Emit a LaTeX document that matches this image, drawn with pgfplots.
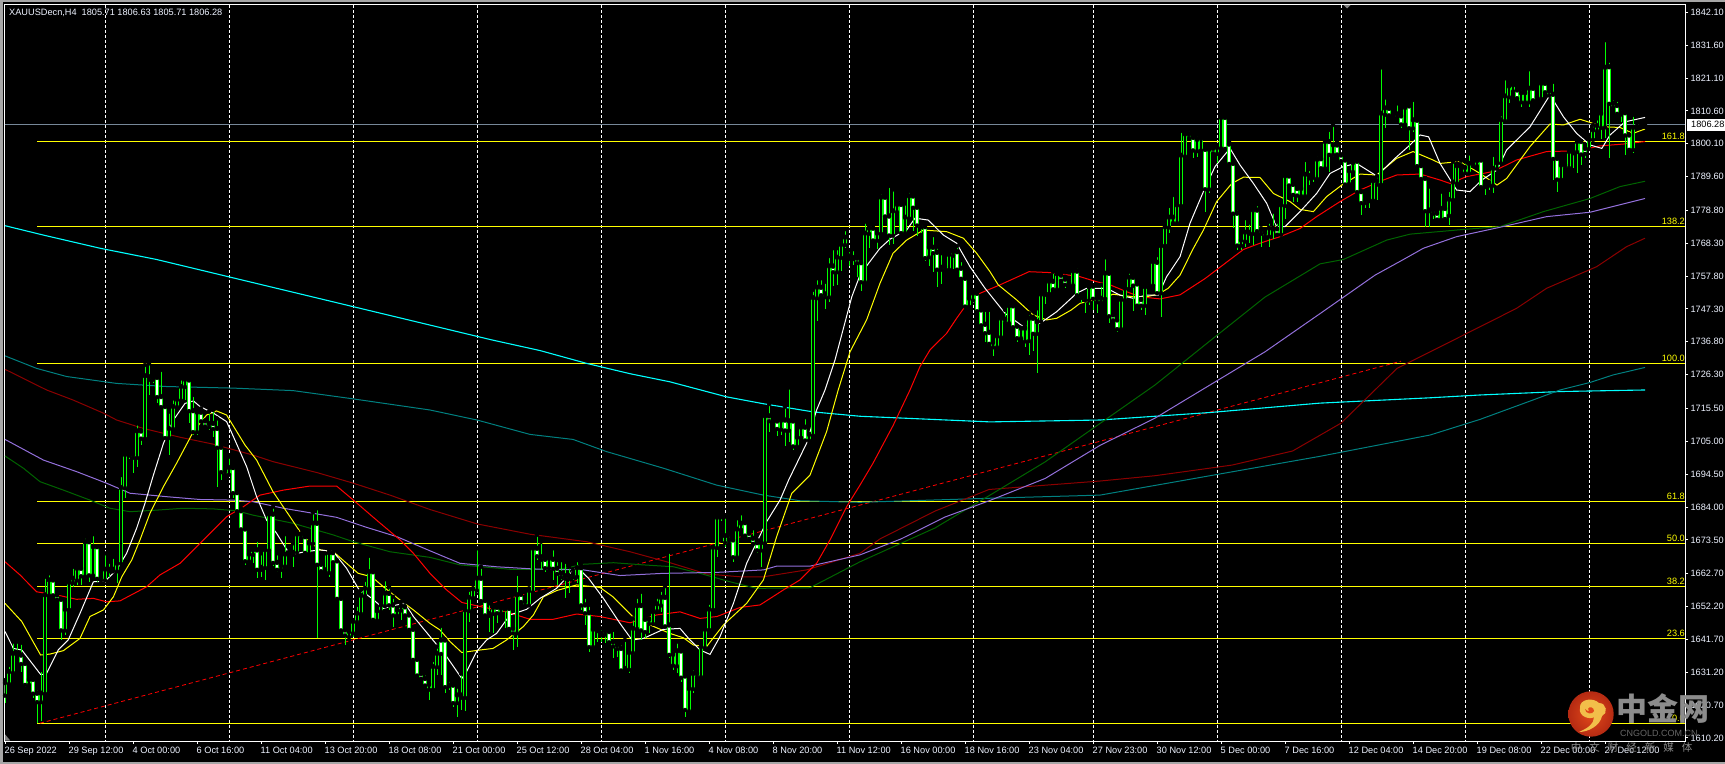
\documentclass[border=0pt]{standalone}
\usepackage{pgfplots}
\usepackage{pgfplotstable}
\usepackage{fontspec}
\setmainfont{Liberation Sans}
\newfontfamily\cjk{Noto Sans CJK SC}
\pgfplotsset{compat=1.18}
\definecolor{cgreen}{HTML}{00FF00}
\definecolor{cdred}{HTML}{8B0000}
\definecolor{cdgreen}{HTML}{006400}
\definecolor{cpurple}{HTML}{9370DB}
\definecolor{cteal}{HTML}{008080}
\definecolor{cbid}{HTML}{778899}
\definecolor{ccyan}{HTML}{00FFFF}
\definecolor{cyel}{HTML}{FFFF00}
\definecolor{cred}{HTML}{FF0000}
\definecolor{cwhite}{HTML}{FFFFFF}
\definecolor{clabel}{HTML}{EEF3FF}
\pgfplotstableread{
i o h l c
0 1623.9 1628.7 1621.3 1627.9
1 1627.6 1633.5 1627.0 1631.4
2 1631.1 1641.0 1630.5 1637.2
3 1636.7 1641.0 1636.7 1637.4
4 1636.7 1640.6 1631.4 1634.0
5 1634.0 1634.0 1626.6 1627.3
6 1627.3 1630.3 1627.3 1628.9
7 1628.9 1630.3 1622.9 1624.5
8 1624.5 1626.0 1614.9 1621.8
9 1621.8 1631.9 1615.6 1624.5
10 1624.5 1661.7 1624.5 1655.9
11 1655.9 1662.8 1655.9 1660.7
12 1660.7 1660.7 1655.3 1655.9
13 1655.9 1655.9 1654.5 1654.5
14 1654.5 1654.5 1641.5 1644.7
15 1644.7 1651.3 1643.1 1651.3
16 1651.3 1659.9 1651.3 1659.9
17 1659.9 1664.9 1658.5 1661.2
18 1660.7 1665.5 1659.1 1664.4
19 1664.4 1664.9 1659.1 1662.0
20 1662.0 1674.5 1662.0 1672.9
21 1672.9 1674.0 1660.1 1662.3
22 1662.3 1675.3 1662.3 1671.3
23 1671.3 1671.3 1660.1 1661.2
24 1661.5 1662.8 1660.1 1660.7
25 1660.7 1669.2 1660.7 1664.1
26 1663.6 1666.5 1661.7 1664.1
27 1663.6 1668.1 1663.0 1664.1
28 1663.6 1666.5 1659.6 1666.0
29 1666.0 1694.2 1666.0 1690.2
30 1690.2 1701.7 1686.8 1700.8
31 1700.6 1702.2 1699.5 1700.9
32 1700.8 1700.8 1694.8 1699.9
33 1699.9 1710.7 1696.9 1708.3
34 1708.3 1708.3 1703.8 1706.0
35 1706.0 1729.4 1706.0 1725.9
36 1724.8 1729.9 1719.8 1725.6
37 1725.4 1726.2 1723.5 1724.8
38 1725.4 1726.2 1717.1 1719.3
39 1719.3 1727.8 1715.5 1716.1
40 1716.1 1716.1 1706.0 1706.2
41 1706.2 1714.5 1700.6 1709.1
42 1709.1 1718.7 1708.6 1716.1
43 1716.1 1718.8 1716.1 1718.4
44 1718.2 1725.1 1717.7 1722.5
45 1722.5 1725.6 1718.2 1724.8
46 1724.6 1725.0 1710.7 1714.8
47 1714.8 1719.8 1707.0 1708.1
48 1708.1 1715.5 1707.0 1714.3
49 1714.3 1715.5 1710.7 1711.5
50 1711.5 1711.5 1709.1 1709.9
51 1709.7 1714.5 1708.6 1710.7
52 1710.7 1715.0 1706.5 1709.1
53 1709.1 1712.3 1690.5 1703.1
54 1703.1 1703.3 1692.6 1695.3
55 1694.5 1695.5 1694.2 1695.5
56 1694.5 1700.1 1694.5 1696.6
57 1696.6 1697.4 1686.8 1688.6
58 1688.6 1689.4 1682.0 1682.8
59 1682.8 1683.6 1676.7 1677.0
60 1677.0 1677.0 1665.5 1666.8
61 1666.8 1668.9 1666.0 1668.9
62 1668.9 1671.3 1666.0 1670.3
63 1670.3 1673.5 1661.2 1664.1
64 1664.1 1669.2 1661.7 1664.7
65 1664.7 1671.3 1660.7 1670.3
66 1670.3 1682.0 1670.3 1681.7
67 1681.7 1684.1 1665.0 1666.3
68 1666.3 1669.2 1663.3 1664.1
69 1664.1 1665.2 1661.2 1665.2
70 1665.2 1675.3 1665.2 1668.9
71 1668.3 1669.7 1668.1 1669.0
72 1668.9 1672.4 1664.9 1669.5
73 1669.5 1676.1 1669.5 1675.3
74 1675.3 1675.5 1674.2 1674.3
75 1674.5 1674.5 1669.4 1669.5
76 1669.2 1672.9 1668.7 1672.4
77 1672.4 1682.3 1672.4 1678.8
78 1678.8 1683.6 1642.2 1665.7
79 1665.7 1665.7 1662.8 1663.6
80 1663.9 1669.2 1663.0 1663.4
81 1663.1 1670.3 1661.7 1669.4
82 1669.4 1669.4 1666.4 1666.5
83 1666.8 1666.8 1654.3 1654.8
84 1654.8 1654.8 1644.2 1644.7
85 1644.7 1644.7 1639.9 1643.1
86 1642.6 1644.3 1642.4 1644.2
87 1643.8 1647.9 1642.5 1647.4
88 1647.4 1652.7 1647.3 1650.0
89 1650.0 1657.5 1650.0 1655.7
90 1655.7 1660.7 1655.5 1658.0
91 1658.0 1668.4 1657.5 1663.3
92 1663.3 1663.3 1647.9 1648.1
93 1647.9 1651.6 1647.9 1650.8
94 1650.8 1653.2 1650.8 1652.7
95 1652.5 1660.9 1652.5 1656.4
96 1656.4 1658.5 1651.1 1652.7
97 1652.7 1655.3 1645.8 1649.5
98 1649.5 1651.2 1649.4 1651.1
99 1651.1 1653.7 1647.9 1652.4
100 1652.1 1653.7 1649.4 1649.5
101 1649.5 1649.5 1644.7 1644.9
102 1644.9 1644.9 1635.1 1635.3
103 1635.3 1635.3 1630.2 1630.3
104 1630.8 1631.4 1628.9 1629.3
105 1629.2 1630.8 1626.6 1627.1
106 1625.8 1627.5 1622.3 1627.3
107 1625.8 1635.1 1625.5 1633.0
108 1633.0 1639.4 1630.3 1637.2
109 1641.5 1646.0 1630.3 1637.2
110 1641.5 1641.5 1624.7 1626.6
111 1627.1 1628.7 1625.5 1626.9
112 1627.1 1628.2 1620.2 1621.5
113 1621.5 1626.6 1617.0 1623.9
114 1623.2 1630.8 1619.1 1623.9
115 1623.2 1651.1 1618.9 1651.1
116 1650.9 1657.5 1647.4 1655.1
117 1655.1 1658.0 1655.0 1657.8
118 1657.5 1670.8 1657.4 1661.2
119 1661.2 1664.9 1654.0 1654.1
120 1654.1 1654.1 1649.0 1649.5
121 1649.4 1653.2 1644.2 1650.0
122 1650.0 1652.7 1643.8 1651.9
123 1651.9 1652.7 1646.8 1650.2
124 1650.2 1652.0 1650.0 1651.6
125 1651.5 1652.1 1645.2 1651.9
126 1651.6 1652.1 1644.7 1645.2
127 1645.2 1645.2 1638.3 1643.8
128 1643.8 1662.6 1639.4 1655.9
129 1656.1 1656.4 1653.6 1653.8
130 1653.8 1653.8 1652.1 1652.7
131 1652.7 1658.0 1652.5 1657.3
132 1656.9 1671.3 1656.9 1670.8
133 1670.8 1675.1 1667.0 1668.4
134 1668.1 1672.9 1663.9 1667.3
135 1667.3 1668.1 1663.3 1664.6
136 1664.6 1667.8 1664.4 1667.6
137 1667.3 1670.8 1660.7 1664.4
138 1664.4 1667.0 1659.1 1662.8
139 1662.8 1667.0 1660.7 1661.7
140 1661.2 1666.5 1654.8 1662.0
141 1661.2 1664.9 1656.4 1662.0
142 1661.7 1663.9 1660.7 1662.6
143 1661.9 1667.0 1659.6 1664.6
144 1664.6 1665.5 1651.1 1652.7
145 1652.7 1655.3 1646.3 1650.2
146 1650.2 1652.7 1637.8 1639.4
147 1639.4 1645.2 1638.8 1644.9
148 1644.5 1645.5 1640.9 1644.9
149 1643.2 1645.2 1640.9 1643.6
150 1643.4 1644.7 1640.4 1644.4
151 1644.2 1644.7 1640.4 1640.9
152 1640.9 1644.7 1635.6 1639.6
153 1639.9 1640.0 1636.2 1638.8
154 1638.8 1640.4 1631.5 1631.9
155 1632.1 1641.5 1631.7 1632.4
156 1632.2 1637.8 1630.8 1637.5
157 1637.5 1648.4 1636.7 1645.2
158 1645.2 1655.3 1645.0 1652.4
159 1652.5 1656.9 1641.5 1644.7
160 1648.1 1648.2 1642.0 1644.2
161 1646.8 1648.3 1643.6 1648.1
162 1646.8 1651.1 1646.3 1650.5
163 1650.9 1655.3 1650.8 1653.0
164 1652.7 1657.5 1650.5 1655.1
165 1655.1 1658.7 1645.9 1646.0
166 1646.3 1669.7 1635.6 1636.9
167 1633.5 1638.3 1632.0 1636.9
168 1633.3 1641.0 1631.0 1638.0
169 1638.0 1638.0 1628.2 1629.6
170 1630.0 1630.2 1616.8 1619.3
171 1618.9 1626.5 1618.9 1626.0
172 1626.0 1632.4 1624.5 1630.8
173 1629.8 1631.4 1629.2 1630.8
174 1629.8 1639.5 1629.2 1639.4
175 1639.1 1645.0 1639.0 1644.9
176 1644.9 1653.4 1644.8 1651.3
177 1651.3 1671.3 1651.3 1671.1
178 1671.1 1681.8 1667.9 1680.7
179 1680.9 1681.8 1679.6 1681.1
180 1672.7 1680.9 1671.3 1674.8
181 1673.5 1675.1 1672.3 1672.4
182 1673.5 1673.6 1666.5 1668.1
183 1668.1 1680.4 1668.0 1676.9
184 1676.9 1682.0 1676.8 1678.8
185 1679.0 1679.2 1674.9 1675.0
186 1675.6 1675.8 1673.9 1674.0
187 1674.0 1677.2 1672.3 1672.4
188 1672.6 1673.5 1669.2 1670.3
189 1670.3 1672.7 1664.7 1672.6
190 1672.6 1713.2 1672.6 1713.1
191 1713.1 1716.9 1708.1 1711.6
192 1711.8 1712.3 1710.7 1711.3
193 1711.5 1712.7 1706.7 1709.1
194 1708.9 1711.8 1707.0 1711.7
195 1711.8 1716.1 1703.5 1708.6
196 1708.6 1722.2 1704.9 1711.5
197 1711.5 1711.8 1702.2 1703.5
198 1703.5 1707.5 1703.3 1706.3
199 1706.3 1709.6 1706.2 1709.5
200 1709.5 1712.7 1705.3 1705.4
201 1705.4 1707.3 1705.3 1707.2
202 1707.0 1753.4 1706.8 1750.9
203 1750.9 1757.1 1743.6 1754.2
204 1754.2 1757.1 1751.7 1751.8
205 1752.1 1756.0 1747.2 1751.2
206 1751.2 1764.2 1749.6 1761.0
207 1761.0 1766.7 1754.6 1759.2
208 1759.2 1766.7 1755.0 1763.8
209 1763.8 1769.3 1759.5 1767.9
210 1767.9 1772.8 1766.7 1770.2
211 1763.5 1766.1 1761.0 1764.2
212 1763.7 1766.4 1761.3 1763.4
213 1763.5 1764.0 1757.6 1762.1
214 1762.1 1762.4 1753.1 1756.0
215 1756.0 1775.2 1756.0 1771.5
216 1771.5 1774.1 1766.7 1773.1
217 1773.1 1774.1 1769.2 1769.3
218 1769.3 1772.5 1766.3 1771.5
219 1771.5 1784.5 1771.4 1783.0
220 1783.0 1783.2 1776.9 1777.0
221 1777.0 1786.6 1767.7 1770.9
222 1770.9 1785.5 1767.9 1778.6
223 1778.4 1781.0 1778.3 1780.7
224 1780.7 1781.6 1771.5 1771.7
225 1771.7 1781.0 1771.6 1776.6
226 1776.4 1785.0 1776.3 1783.4
227 1783.4 1783.5 1772.3 1779.8
228 1779.8 1780.0 1770.6 1774.1
229 1774.4 1774.6 1771.5 1773.6
230 1773.6 1774.1 1762.7 1763.7
231 1764.0 1767.1 1761.0 1767.0
232 1767.0 1770.9 1759.2 1765.3
233 1765.4 1767.2 1754.4 1760.0
234 1760.0 1765.1 1755.2 1760.6
235 1760.0 1761.9 1759.7 1760.8
236 1760.0 1764.8 1759.5 1764.7
237 1765.6 1766.7 1760.0 1764.5
238 1765.6 1767.4 1759.9 1760.0
239 1760.3 1762.9 1757.0 1757.1
240 1757.1 1758.1 1748.0 1748.2
241 1748.2 1750.8 1747.5 1750.7
242 1750.2 1752.8 1750.1 1752.3
243 1752.3 1752.8 1746.4 1746.7
244 1747.0 1747.5 1741.6 1742.2
245 1742.4 1747.0 1736.8 1739.7
246 1739.8 1747.0 1736.0 1736.3
247 1735.2 1737.4 1732.4 1736.6
248 1735.2 1739.5 1735.1 1738.6
249 1738.4 1744.8 1738.3 1744.3
250 1743.0 1747.0 1742.7 1744.0
251 1742.9 1749.6 1742.8 1748.3
252 1748.3 1749.1 1741.5 1741.6
253 1741.8 1741.9 1736.8 1738.1
254 1738.1 1741.2 1737.4 1741.1
255 1737.1 1741.6 1735.2 1741.1
256 1737.2 1745.9 1732.6 1744.3
257 1744.3 1744.8 1733.9 1739.5
258 1739.5 1747.5 1726.9 1743.2
259 1743.4 1753.3 1743.3 1752.0
260 1752.0 1752.8 1748.9 1752.3
261 1752.3 1756.5 1752.2 1756.1
262 1756.1 1759.2 1753.3 1753.7
263 1753.7 1759.2 1753.6 1758.5
264 1758.1 1758.7 1756.4 1756.5
265 1756.8 1757.6 1753.9 1755.2
266 1755.0 1756.0 1754.9 1755.5
267 1755.0 1760.0 1754.9 1759.4
268 1759.4 1760.8 1751.2 1751.8
269 1751.8 1751.9 1749.1 1751.0
270 1751.0 1751.1 1745.9 1750.2
271 1750.2 1755.5 1748.6 1754.4
272 1754.6 1754.7 1747.0 1750.7
273 1749.6 1750.8 1745.9 1750.7
274 1749.6 1755.0 1749.1 1750.7
275 1750.7 1763.8 1750.6 1758.7
276 1758.7 1758.8 1742.9 1745.1
277 1745.4 1745.5 1743.7 1743.8
278 1743.8 1743.9 1740.0 1741.0
279 1741.0 1750.4 1740.8 1750.3
280 1750.3 1755.0 1750.2 1753.9
281 1753.9 1759.2 1753.8 1757.4
282 1757.4 1758.7 1746.7 1754.9
283 1755.3 1755.4 1748.4 1748.5
284 1750.3 1750.4 1747.0 1748.5
285 1748.5 1754.5 1745.4 1754.4
286 1754.7 1755.8 1754.2 1755.3
287 1754.9 1762.5 1754.8 1762.4
288 1762.2 1764.5 1752.4 1752.5
289 1752.5 1768.8 1744.6 1767.5
290 1767.7 1773.6 1767.6 1773.5
291 1773.5 1780.2 1771.5 1776.6
292 1774.9 1783.7 1774.1 1776.6
293 1774.9 1781.6 1774.8 1780.5
294 1780.4 1804.2 1780.3 1796.4
295 1796.2 1804.3 1796.1 1803.2
296 1803.2 1804.5 1801.8 1802.1
297 1802.1 1802.9 1795.4 1798.1
298 1797.9 1802.9 1795.7 1801.5
299 1798.1 1802.9 1798.0 1801.8
300 1798.3 1798.4 1778.4 1785.7
301 1785.7 1798.6 1784.2 1798.3
302 1798.6 1799.7 1796.5 1797.2
303 1797.0 1799.7 1793.8 1798.9
304 1798.8 1808.9 1798.7 1808.5
305 1808.5 1809.8 1798.5 1798.6
306 1800.0 1800.8 1793.3 1793.8
307 1793.8 1793.9 1773.1 1777.9
308 1777.9 1779.4 1766.1 1767.7
309 1767.7 1770.4 1766.1 1769.3
310 1769.0 1776.3 1767.2 1771.8
311 1771.5 1774.9 1768.3 1771.8
312 1771.5 1779.4 1767.7 1778.9
313 1778.9 1780.8 1772.2 1772.3
314 1772.5 1773.1 1767.2 1771.5
315 1771.7 1771.8 1770.4 1770.6
316 1770.6 1775.2 1767.2 1773.1
317 1772.9 1778.4 1769.5 1773.1
318 1772.9 1775.2 1771.0 1771.2
319 1771.2 1781.1 1771.1 1780.5
320 1780.4 1790.4 1776.0 1789.8
321 1789.8 1790.1 1786.8 1786.9
322 1787.1 1788.0 1781.6 1783.9
323 1785.8 1786.6 1781.6 1783.7
324 1783.5 1786.4 1783.4 1785.8
325 1783.5 1794.9 1783.4 1790.3
326 1789.2 1792.0 1786.9 1789.9
327 1789.4 1790.1 1788.0 1789.6
328 1789.0 1796.5 1788.9 1795.1
329 1795.3 1795.5 1792.3 1792.4
330 1792.4 1801.3 1792.3 1800.8
331 1800.8 1804.5 1791.2 1796.7
332 1796.7 1806.1 1796.0 1799.7
333 1799.7 1800.8 1796.5 1796.8
334 1796.5 1796.6 1794.6 1794.7
335 1794.9 1795.0 1786.9 1787.2
336 1787.4 1791.5 1787.3 1791.4
337 1791.2 1794.2 1791.1 1794.1
338 1794.5 1794.9 1784.5 1784.8
339 1784.8 1784.9 1777.3 1781.3
340 1781.3 1782.2 1779.4 1782.1
341 1781.9 1782.3 1779.4 1782.1
342 1782.1 1788.3 1782.0 1788.2
343 1787.2 1789.8 1782.1 1788.2
344 1787.2 1824.5 1787.1 1809.8
345 1809.5 1814.9 1805.2 1811.5
346 1811.4 1811.5 1808.7 1809.3
347 1809.2 1810.3 1808.7 1809.8
348 1808.7 1813.0 1808.6 1809.6
349 1809.0 1809.1 1805.0 1806.4
350 1806.4 1812.5 1806.3 1811.7
351 1812.2 1813.5 1798.1 1805.2
352 1805.2 1814.1 1803.9 1807.7
353 1807.6 1807.7 1793.0 1793.1
354 1793.1 1793.2 1788.9 1789.0
355 1789.0 1789.1 1773.6 1778.7
356 1778.7 1786.4 1773.6 1778.9
357 1778.9 1779.4 1776.2 1777.9
358 1777.9 1778.0 1775.7 1776.0
359 1776.0 1784.8 1775.9 1779.4
360 1779.4 1779.5 1776.1 1776.2
361 1777.3 1785.3 1774.1 1782.3
362 1782.3 1794.4 1782.2 1787.8
363 1787.6 1793.8 1787.5 1793.0
364 1792.8 1794.7 1792.7 1793.0
365 1790.8 1794.4 1790.5 1792.5
366 1790.8 1797.0 1790.7 1793.8
367 1793.8 1794.4 1793.0 1793.1
368 1793.1 1795.9 1793.0 1794.7
369 1794.9 1795.0 1785.8 1786.4
370 1786.4 1787.0 1783.7 1786.9
371 1786.9 1787.9 1785.3 1787.4
372 1786.9 1796.5 1784.2 1792.2
373 1792.2 1794.1 1792.0 1794.0
374 1794.0 1809.5 1793.9 1807.7
375 1807.5 1821.0 1807.4 1815.3
376 1815.1 1818.6 1813.0 1818.5
377 1817.0 1819.4 1816.9 1818.9
378 1817.3 1817.8 1814.7 1814.8
379 1813.5 1817.8 1811.7 1816.4
380 1813.5 1816.5 1813.4 1816.4
381 1813.5 1823.9 1811.7 1817.8
382 1817.8 1817.9 1814.0 1814.1
383 1814.3 1815.2 1814.1 1815.1
384 1814.6 1819.9 1814.5 1819.4
385 1819.4 1820.5 1816.6 1816.7
386 1816.9 1818.3 1815.6 1815.7
387 1815.9 1819.9 1788.5 1795.4
388 1795.4 1795.5 1784.8 1788.8
389 1788.8 1793.4 1788.2 1793.3
390 1792.5 1793.4 1792.4 1793.3
391 1792.5 1798.1 1792.4 1797.6
392 1797.2 1797.9 1792.2 1797.8
393 1797.6 1801.3 1790.8 1800.8
394 1800.8 1800.9 1793.3 1796.8
395 1798.6 1798.7 1795.4 1797.0
396 1798.6 1802.9 1798.5 1801.5
397 1801.5 1806.1 1801.4 1804.5
398 1804.3 1808.2 1804.2 1805.9
399 1805.3 1810.9 1801.5 1809.8
400 1805.5 1833.2 1801.8 1824.5
401 1824.7 1826.6 1795.4 1813.0
402 1813.0 1814.6 1811.8 1811.9
403 1812.3 1814.1 1809.7 1809.8
404 1810.0 1811.4 1807.1 1809.6
405 1810.0 1810.9 1796.5 1802.9
406 1802.9 1803.0 1797.8 1798.3
407 1798.3 1809.3 1797.0 1805.3
408 1805.3 1805.7 1805.2 1805.6
409 1805.6 1805.8 1805.5 1805.7
410 1805.71 1806.63 1805.71 1806.28
}\candles
\begin{document}
\begin{tikzpicture}
\path[use as bounding box,fill=black] (-4.7bp,-23bp) rectangle (1720.3bp,741bp);
\fill[black!35] (-4.7bp,738.5bp) rectangle (1720.3bp,741bp);
\fill[black!35] (-4.7bp,-23bp) rectangle (-1.7bp,741bp);
\fill[black!35] (-4.7bp,-23bp) rectangle (1720.3bp,-20.5bp);
\begin{axis}[
  at={(0,0)},anchor=south west,
  scale only axis,width=1680.6bp,height=736.3bp,
  xmin=-0.075,xmax=420.075,ymin=1609.22,ymax=1844.53,
  axis line style={cwhite,line width=1bp},
  tick style={cwhite,line width=1bp},
  tick align=outside,major tick length=3bp,
  xtick={0,16,...,400},
  xticklabels={26 Sep 2022,29 Sep 12:00,4 Oct 00:00,6 Oct 16:00,11 Oct 04:00,13 Oct 20:00,18 Oct 08:00,21 Oct 00:00,25 Oct 12:00,28 Oct 04:00,1 Nov 16:00,4 Nov 08:00,8 Nov 20:00,11 Nov 12:00,16 Nov 00:00,18 Nov 16:00,23 Nov 04:00,27 Nov 23:00,30 Nov 12:00,5 Dec 00:00,7 Dec 16:00,12 Dec 04:00,14 Dec 20:00,19 Dec 08:00,22 Dec 00:00,27 Dec 12:00},
  xticklabel style={anchor=north west,font=\fontsize{9.2bp}{11bp}\selectfont,text=clabel,inner sep=0pt,xshift=-0.5bp,yshift=-2.5bp},
  ytick={1842.1,1831.6,1821.1,1810.6,1800.1,1789.6,1778.8,1768.3,1757.8,1747.3,1736.8,1726.3,1715.5,1705,1694.5,1684,1673.5,1662.7,1652.2,1641.7,1631.2,1620.7,1610.2},
  yticklabel style={/pgf/number format/.cd,fixed,fixed zerofill,precision=2,1000 sep={},assume math mode=true,/tikz/.cd,font=\fontsize{9.2bp}{11bp}\selectfont,text=clabel,anchor=west,inner sep=0pt,xshift=2bp},
  xtick pos=bottom,ytick pos=right,yticklabel pos=right,
  clip mode=individual,
  axis background/.style={fill=black},
]
% vertical separators
\pgfplotsinvokeforeach{25,56,87,118,149,180,211,242,272,303,334,365,396}{
  \addplot[forget plot,cwhite,line width=1bp,dash pattern=on 3bp off 2bp] coordinates {(#1,1844.5) (#1,1609.3)};
}
% bid line
\addplot[forget plot,cbid,line width=1bp] coordinates {(-0.1,1806.28) (420.1,1806.28)};
% fibonacci levels
\pgfplotsinvokeforeach{1800.87,1773.7,1729.9,1685.8,1672.4,1658.6,1642.0,1614.8}{
  \addplot[forget plot,cyel,line width=1bp] coordinates {(8,#1) (420.1,#1)};
}
% trend line
\addplot[forget plot,cred,line width=0.8bp,dash pattern=on 4bp off 3bp] coordinates {(8.75,1614.9) (349,1730.6)};
% cyan
\addplot[forget plot,ccyan,line width=1.1bp] coordinates {(0,1773.9)(9.6,1770.9)(23.75,1766.7)(37.9,1763.1)(121.7,1737.4)(133.75,1734)(145.4,1729.9)(156.25,1726.6)(166.25,1724)(180.4,1719.2)(189.6,1717)(202,1714.4)(213.75,1713)(246.25,1711.2)(273.75,1711.8)(301.25,1714.2)(328.75,1717.2)(356.25,1718.9)(368.75,1719.8)(388.75,1720.9)(410,1721.4)};
% teal
\addplot[forget plot,cteal,line width=1bp] coordinates {(0,1732.3)(7.9,1728.3)(15.4,1725.7)(27.9,1723.5)(40.4,1722.5)(57,1722)(72,1721.2)(86.25,1718.7)(106.25,1715)(118,1711.8)(131.25,1707.2)(142,1705.6)(150.4,1701.7)(164.6,1696.4)(177.9,1691)(189.6,1687.8)(198.75,1686)(213.75,1685.5)(246.25,1686.8)(273.75,1687.8)(301.25,1694)(328.75,1700.2)(356.25,1707)(368.75,1712)(382,1718.2)(388.75,1721.4)(396.25,1723.8)(402,1726.2)(410,1728.6)};
% dark red
\addplot[forget plot,cdred,line width=1bp] coordinates {(0,1728)(10.4,1721.4)(17,1718.2)(24.6,1714)(27.9,1711.8)(34.6,1709.1)(43.75,1706.3)(52,1704.1)(62,1700.6)(67,1698.5)(78,1695)(87.1,1691.6)(96.25,1687.8)(106.25,1683.2)(118,1678.6)(131.25,1675.3)(145.4,1672.9)(156.25,1669.7)(166.25,1666.2)(175.4,1662.6)(183.75,1661.7)(189.6,1661.7)(200.4,1663.9)(213.75,1669.2)(218.75,1673.8)(232.5,1682.7)(246,1689.6)(273.75,1692.3)(287.5,1694)(306.75,1697.4)(321.9,1701.9)(334,1710.8)(348,1728.3)(368.75,1741.6)(377.9,1747.5)(385.4,1753.9)(397.9,1760.8)(405.4,1767.2)(410,1769.9)};
% dark green
\addplot[forget plot,cdgreen,line width=1bp] coordinates {(0,1700.3)(4.6,1696.4)(8.75,1692.1)(14.6,1689.4)(21.25,1686.2)(26.25,1683.6)(31.25,1682.5)(37.9,1683)(44.6,1683.6)(52,1683.4)(57.9,1682.8)(62,1681.4)(72,1678.8)(82,1675.1)(87.1,1672.9)(96.25,1669.7)(106.25,1667.9)(113.75,1665.5)(126.25,1664.1)(138.75,1664.1)(144.6,1665.7)(152.1,1666.2)(159.6,1665.5)(167.1,1664.9)(173.75,1662.8)(181.25,1660.1)(187.9,1658)(201.25,1658.2)(213.75,1666.5)(232.5,1677.3)(246.25,1687.8)(260,1698.4)(273.75,1710.7)(287.5,1723)(301.25,1737.1)(315,1751.1)(328.75,1761.7)(334.6,1763.1)(345.4,1769.3)(351.25,1771.2)(364.6,1772.7)(373.75,1773.6)(384.6,1778.4)(396.25,1782.6)(403.75,1786.4)(410,1788.1)};
% purple
\addplot[forget plot,cpurple,line width=1bp] coordinates {(0,1705.6)(9.6,1699)(17.9,1695.3)(25.4,1691.6)(31.25,1688.4)(40.4,1687.3)(48.75,1686.4)(57,1686.2)(62,1685.7)(69.6,1683.6)(77.9,1681.8)(82.9,1680.7)(90.4,1677.5)(98,1674.5)(106.25,1670)(113.75,1666)(122.9,1664.9)(132.1,1664.2)(144.6,1663.9)(153.75,1662.1)(164.6,1662.8)(177.9,1663.1)(189.6,1663.9)(192.9,1665.1)(201.25,1665.1)(213.75,1668.7)(224,1673.8)(235,1680.8)(246.25,1686.1)(260,1693.1)(273.75,1703.7)(287.5,1712.4)(301.25,1723)(315,1733.6)(328.75,1745.8)(342.5,1758.1)(349.6,1763.1)(354.6,1766.7)(362.9,1770.4)(373.75,1773.4)(385.4,1776.8)(396.25,1778.2)(410,1782.6)};
% red
\addplot[forget plot,cred,line width=1bp] coordinates {(0,1666.5)(3.75,1662.3)(7.9,1656.9)(12.9,1655.9)(17.9,1654.5)(22.1,1654.8)(25.4,1653.7)(28.75,1654)(35.4,1658.5)(38.75,1662.3)(43.75,1666)(48.75,1672.4)(55.4,1680.9)(59.6,1684.1)(63.75,1687.8)(69.6,1689.4)(76.25,1690.7)(82.9,1690.7)(87.1,1686.2)(92.9,1679.8)(98.75,1673.5)(102.1,1669.2)(106.25,1662.8)(110.4,1657.5)(114.2,1653.5)(118.75,1652.2)(125.4,1650.5)(131.25,1648.1)(137,1648.1)(142.9,1649.8)(148.75,1649)(156.25,1647)(162.9,1649.5)(168.75,1650.5)(173.75,1648.4)(178,1649)(183.75,1651.9)(188.75,1652.7)(194.6,1657.5)(198.75,1660.7)(202.9,1666)(206.25,1673.5)(210.4,1684.1)(213.75,1691)(217,1698)(222,1710)(226.25,1721.4)(228.75,1728.9)(231.25,1734.2)(235.4,1739.5)(237.9,1744.3)(241.75,1751.2)(243.75,1752.3)(248.75,1755)(256,1759.2)(261.6,1758.9)(268.75,1757.6)(272.9,1756)(276.25,1755)(280.4,1752.8)(283.75,1751.2)(288.75,1750.5)(293.75,1751.8)(300,1757)(309.6,1766.3)(313.75,1768.3)(318.75,1770.4)(323.75,1773)(327.9,1776.8)(333.75,1781.6)(338.75,1785.3)(344.6,1788.5)(347.9,1790.1)(353.75,1790.4)(358.75,1788.5)(361.25,1787.4)(365.4,1789.6)(372,1791.2)(377.9,1794.9)(385.4,1797.6)(392.9,1797.8)(398.75,1799.4)(404.6,1800)(410,1800.8)};
% yellow
\addplot[forget plot,cyel,line width=1bp] coordinates {(0,1653.2)(4.2,1647.4)(7,1641)(8.9,1636.7)(11.25,1637)(14.6,1638.1)(18.75,1642)(21.25,1649)(24.6,1651.1)(27.1,1655.3)(29.2,1661.7)(31.7,1667.1)(33.75,1673.5)(36.25,1682)(39.6,1690.5)(42.9,1698)(47.1,1708.1)(50.4,1713.4)(52.9,1714.7)(55.4,1713.4)(60,1703.8)(62.9,1699)(67,1688.9)(71.25,1680.9)(74.6,1674.5)(78.75,1670.3)(82.1,1669.7)(85.4,1666)(88.3,1662.8)(91.7,1661.7)(94.6,1658.5)(98.75,1654.3)(102.1,1651.1)(106.25,1646.8)(108.75,1644.7)(111.25,1641)(114.2,1637.5)(118.75,1638.3)(122,1638.8)(125.4,1641.5)(129.6,1645.8)(132.1,1649.5)(134.6,1655.3)(137.9,1657.3)(142.9,1659.1)(148.75,1658.3)(152,1655.3)(157,1648.9)(161.25,1646.3)(166.25,1643.6)(169.6,1642.2)(172.1,1639.9)(175.4,1639.4)(179.6,1646.3)(185.4,1653.2)(189.6,1660.7)(192.9,1674.5)(196.7,1688.4)(201.25,1694.2)(205.4,1708.1)(208.3,1721.4)(211.25,1733.6)(215.4,1743.8)(218.75,1755.5)(222,1765.1)(225.4,1769.3)(229.6,1772.5)(235.4,1772)(239.6,1769.9)(242.9,1765.1)(246.25,1759.2)(248.3,1755)(252.9,1750.2)(257,1745.4)(260.4,1743.8)(262.9,1744.3)(266.6,1747)(268.75,1749.1)(275.4,1751.2)(277,1752)(282,1751.2)(285.4,1751.2)(288.3,1752)(290.8,1753.9)(293.75,1758.1)(297.1,1766.7)(299.6,1772.5)(302.9,1781.6)(306.7,1787.4)(309.6,1789.4)(313.75,1789.3)(317.1,1784.2)(321.25,1781.6)(323.75,1779.1)(327.1,1778.4)(330.4,1783.2)(334.2,1786.9)(338.75,1790.4)(342.9,1790.1)(347.9,1795.4)(352,1797.6)(357,1794.9)(358.75,1793.8)(363.75,1794.4)(368.75,1790.6)(373,1786.9)(375.4,1789)(381.25,1799.2)(386.25,1806.4)(389.6,1806.1)(393.75,1807.9)(397,1806.6)(399.6,1805.5)(403.75,1805.3)(407,1803.4)(410,1804.8)};
% white
\addplot[forget plot,cwhite,line width=1bp] coordinates {(0,1644.2)(2.1,1638.8)(4.2,1638.3)(8.9,1630.5)(10.25,1630.5)(13.3,1638.3)(15.8,1641.5)(18.75,1650)(22.1,1660.1)(25,1660.3)(27.9,1663.9)(30.4,1669.2)(32.9,1677.2)(35,1685.2)(37.1,1694.2)(39.6,1704.3)(42.1,1711.8)(45,1717.1)(47.1,1717.9)(48.75,1716.1)(52.1,1714)(55.4,1711.3)(57.1,1706.5)(60.4,1696.9)(62.9,1687.3)(65.4,1679.8)(67.9,1675.6)(71.25,1668.7)(75,1669.7)(78.75,1670.3)(82.1,1669.7)(85.4,1664.4)(88.3,1658)(91.7,1654.8)(94.6,1651.6)(97.9,1652.7)(100,1653.2)(102.1,1649)(106.25,1642.6)(110.4,1636.2)(114.2,1629.2)(115.4,1631.4)(117.9,1637.8)(120.4,1641.5)(122.9,1643.6)(126.25,1649.5)(130.4,1651.3)(133.75,1654.8)(137.9,1658)(142.9,1664.9)(145.9,1661.2)(149.6,1654.8)(153.75,1646.8)(156.75,1641.5)(159.6,1642)(164.6,1644.9)(168.75,1645.2)(170.9,1642)(173.75,1638.3)(176.25,1636.9)(178.75,1642.6)(182.1,1653.2)(185.4,1666)(190.4,1679.3)(193.75,1686.2)(195.9,1692.6)(200.4,1704.4)(202.9,1715)(205,1721.4)(207.5,1731)(209.6,1741.1)(211.7,1751.2)(213.75,1758.1)(215.9,1761.9)(218.75,1766.7)(221.25,1769.6)(225.4,1772.5)(227.5,1776.3)(230.8,1775.7)(234.6,1770.9)(237.9,1768.3)(241.25,1760.8)(245,1753.9)(250,1745.9)(254.6,1741.6)(258.75,1742.7)(262.9,1746.4)(267.9,1752.3)(270.4,1753.9)(275.4,1753.9)(278.75,1751.7)(282,1750.7)(285.4,1751.7)(288.3,1751.7)(290.4,1757.6)(293.75,1764)(296.25,1774.7)(299.6,1784.8)(302.5,1792.8)(306.25,1798.6)(308.75,1793.3)(312.1,1787.4)(315.4,1781.1)(317.9,1773.6)(320,1773.6)(323.75,1778.4)(327.9,1784.2)(331.25,1790.6)(334.6,1792.8)(337.9,1793.8)(342.9,1789.8)(347.9,1795.9)(351.25,1799.7)(353.75,1802.9)(355.9,1802.3)(358.75,1793.8)(362.9,1785.3)(366.25,1784.8)(369.2,1788.5)(373,1791.7)(375.4,1798.1)(381.25,1805.5)(386.25,1815.7)(389.6,1808.7)(392.9,1803.4)(396.25,1799.7)(399.2,1798.6)(401.25,1802.9)(405,1807.1)(410,1808.5)};
% candles: wicks, outlines, then bodies
\addplot[forget plot,only marks,mark=none,error bars/.cd,y dir=minus,y explicit,error mark=none,error bar style={solid,line width=1bp,color=cgreen}]
  table[x=i,y=h,y error minus expr=\thisrow{h}-\thisrow{l}] {\candles};
\addplot[forget plot,only marks,mark=none,error bars/.cd,y dir=minus,y explicit,error mark=none,error bar style={solid,line width=4.8bp,color=cgreen}]
  table[x=i,y expr={max(\thisrow{o},\thisrow{c})+0.16},y error minus expr={abs(\thisrow{o}-\thisrow{c})+0.32}] {\candles};
\addplot[forget plot,only marks,mark=none,error bars/.cd,y dir=minus,y explicit,error mark=none,error bar style={solid,line width=2.4bp,color=cwhite}]
  table[x=i,y expr={\thisrow{o}-0.16},y error minus expr={max(\thisrow{o}-\thisrow{c}-0.32,0)}] {\candles};
\addplot[forget plot,only marks,mark=none,error bars/.cd,y dir=minus,y explicit,error mark=none,error bar style={solid,line width=2.6bp,color=black}]
  table[x=i,y expr={\thisrow{c}-0.16},y error minus expr={max(\thisrow{c}-\thisrow{o}-0.32,0)}] {\candles};
% level labels
\begin{scope}[every node/.style={anchor=south east,inner sep=0pt,yshift=1.5bp,text=cyel,font=\fontsize{9.2bp}{11bp}\selectfont}]
\node at (axis cs:420,1800.87) {161.8};
\node at (axis cs:420,1773.7) {138.2};
\node at (axis cs:420,1729.9) {100.0};
\node at (axis cs:420,1685.8) {61.8};
\node at (axis cs:420,1672.4) {50.0};
\node at (axis cs:420,1658.6) {38.2};
\node at (axis cs:420,1642.0) {23.6};
\node at (axis cs:420,1614.8) {0.0};
\end{scope}
\end{axis}
% chart caption, bid box and corner marks
\node[anchor=west,inner sep=0pt,text=clabel,font=\fontsize{9.2bp}{11bp}\selectfont] at (4.3bp,728.5bp) {XAUUSDecn,H4\hspace{5bp}1805.71 1806.63 1805.71 1806.28};
\fill[cwhite] (1682.3bp,610bp) rectangle (1720.3bp,622bp);
\node[anchor=west,inner sep=0pt,text=black,font=\fontsize{9.2bp}{11bp}\selectfont] at (1686.3bp,616.2bp) {1806.28};
\fill[black!50] (0.5bp,0.5bp) -- (5.5bp,0.5bp) -- (0.5bp,6.5bp) -- cycle;
\fill[black!50] (1339bp,736bp) -- (1346bp,736bp) -- (1342.5bp,732.5bp) -- cycle;
% watermark
\definecolor{logoa}{HTML}{E2491B}
\definecolor{logob}{HTML}{B52A12}
\definecolor{logoy}{HTML}{F2BE4A}
\begin{scope}[shift={(1586.3bp,27bp)},x=1bp,y=1bp]
\shade[inner color=logoa,outer color=logob] (0,0) circle (22.7);
\fill[logoy] (-11,6) .. controls (-12,15) and (2,17) .. (8,11) .. controls (16,11) and (17,0) .. (11,-2) .. controls (9,-12) and (-3,-18) .. (-12,-18) .. controls (-3,-14) and (3,-10) .. (3,-3) .. controls (0,-6) and (-13,-3) .. (-11,6) -- cycle;
\fill[logoa] (-6,5) .. controls (-6,0) and (2,-1) .. (3,3) .. controls (3,7) and (-2,8) .. (-3,5) .. controls (-3,3) and (0,3) .. (0,4) .. controls (-2,2) and (-5,3) .. (-6,5) -- cycle;
\end{scope}
\node[anchor=west,inner sep=0pt,text=black!45!white,font=\cjk\bfseries\fontsize{31bp}{34bp}\selectfont] at (1612bp,32.5bp) {中金网};
\node[anchor=west,inner sep=0pt,text=black!60,font=\fontsize{9bp}{10bp}\selectfont] at (1615.3bp,8bp) {CNGOLD.COM.CN};
\node[anchor=west,inner sep=0pt,text=black!45,font=\cjk\fontsize{10.5bp}{12bp}\selectfont] at (1566bp,-6bp) {中\hspace{8bp}文\hspace{8bp}财\hspace{8bp}经\hspace{8bp}新\hspace{8bp}媒\hspace{8bp}体};
\end{tikzpicture}
\end{document}
